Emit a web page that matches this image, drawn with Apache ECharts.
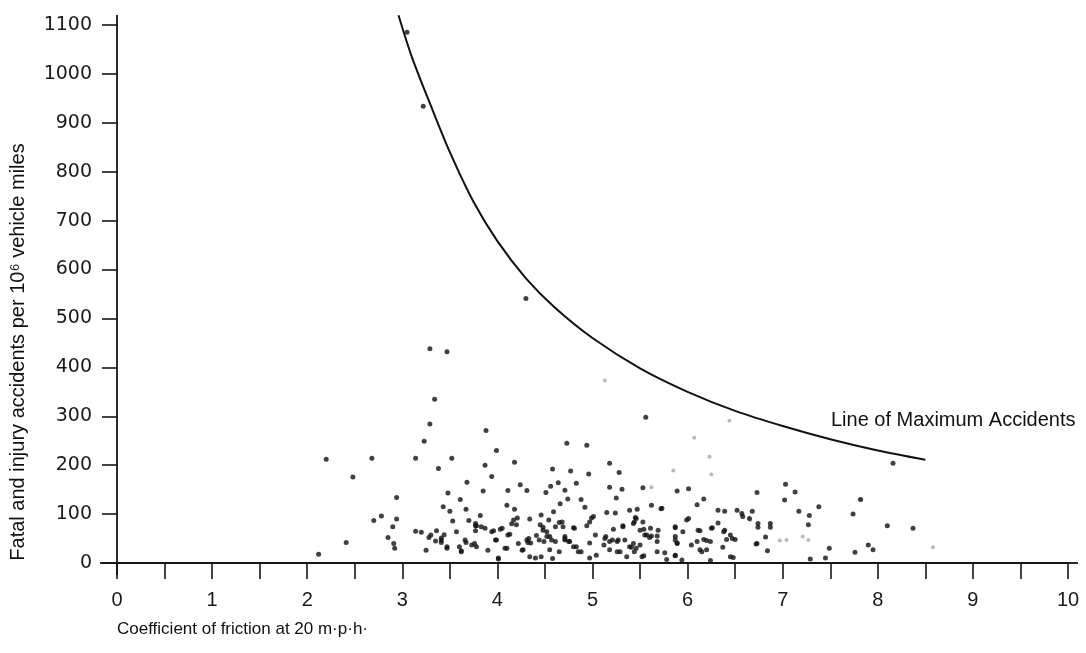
<!DOCTYPE html>
<html>
<head>
<meta charset="utf-8">
<script src="https://cdn.jsdelivr.net/npm/echarts@6/dist/echarts.min.js"></script>
<style>html,body{margin:0;padding:0;background:#fff;}#c{width:1086px;height:653px;}</style>
</head>
<body>
<div id="c"></div>
<script>
// ---- data ----
const xTickValues = [0,1,2,3,4,5,6,7,8,9,10];
const yTickValues = [0,100,200,300,400,500,600,700,800,900,1000,1100];

const curveX = [2.96, 3.1, 3.3, 3.5, 3.75, 4.0, 4.3, 4.6, 5.0, 5.5, 6.0, 6.5, 7.0, 7.5, 8.0, 8.5];
const curveY = [1120, 1035, 935, 840, 738, 658, 582, 523, 460, 398, 350, 311, 280, 253, 230, 211];

const pointsDark = [
  [3.05,1085],[3.22,934],[4.30,541],[3.29,438],[3.47,432],[3.34,335],[3.29,284],[3.23,249],[3.88,271],[4.73,245],[4.94,241],[3.99,230],[5.56,298],
  [2.20,212],[2.68,214],[3.14,214],[3.52,214],[3.38,193],[2.48,176],[3.68,165],[3.48,143],[3.61,130],[2.94,134],[3.43,115],[3.50,106],[3.67,110],[2.78,96],[2.70,87],[2.94,90],[3.53,86],[3.70,87],[3.77,76],[2.90,74],[3.14,65],[3.20,63],[3.36,66],[3.77,66],[2.85,52],[3.28,52],[3.41,51],[3.67,42],[2.91,40],[2.41,42],[2.92,30],[3.25,26],[3.41,42],[3.47,33],[3.62,23],[3.60,33],[3.73,37],[2.12,18],[3.30,57],[3.35,45],[3.44,58],
  [3.87,200],[4.18,206],[5.18,204],[4.58,192],[4.77,188],[4.96,182],[5.28,185],[3.94,177],[4.24,160],[4.56,157],[4.64,164],[4.83,163],[5.18,155],[5.31,151],[5.53,154],[3.85,147],[4.11,148],[4.31,148],[4.51,144],[4.71,149],[5.25,133],[4.88,130],[4.74,131],[4.10,118],[4.66,121],[5.62,118],[5.72,111],[5.47,110],[4.18,110],[4.92,114],[3.82,97],[4.46,98],[4.59,105],[5.15,103],[5.24,102],[5.01,95],[5.45,93],[4.17,88],[4.15,80],[4.21,92],[4.20,78],[4.34,90],[4.54,88],[4.65,83],[4.99,92],[4.94,76],[5.32,76],[5.43,81],[4.80,72],[4.48,73],[4.05,71],[3.87,71],[3.94,64],[3.78,76],[5.55,57],[5.62,55],[5.68,55],[4.11,57],[3.98,47],[4.33,50],[4.35,41],[4.52,54],[4.49,44],[4.57,47],[4.71,54],[4.76,44],[4.83,33],[4.88,23],[5.14,54],[5.21,47],[5.26,44],[5.12,37],[5.39,33],[5.44,23],[4.08,30],[3.78,33],[3.90,26],[4.26,26],[4.46,13],[4.65,23],[4.97,41],[5.26,23],[5.54,15],[5.68,23],[4.01,10],[4.34,13],[4.58,9],[5.54,69],
  [3.77,81],[3.83,74],[3.96,66],[4.03,69],[4.13,59],[3.99,47],[3.66,47],[3.57,64],[3.41,47],[3.76,40],[3.62,25],[3.47,30],[4.10,30],[4.01,8],[4.22,40],[4.31,47],[4.32,42],[4.27,27],[4.41,56],[4.44,47],[4.48,67],[4.52,64],[4.55,54],[4.61,74],[4.61,44],[4.55,27],[4.40,10],[4.71,47],[4.69,74],[4.45,78],
  [5.39,108],[5.46,91],[5.44,84],[4.97,84],[5.32,74],[5.53,84],[4.81,71],[5.61,71],[5.69,67],[5.22,69],[5.87,74],[5.50,67],[4.68,84],[4.71,50],[4.75,44],[4.80,33],[4.85,23],[5.03,57],[5.13,50],[5.18,44],[5.27,47],[5.34,47],[5.43,40],[5.46,30],[5.41,32],[5.57,57],[5.60,52],[5.50,37],[5.68,44],[5.87,47],[5.89,40],[5.18,27],[5.29,23],[5.52,13],[5.87,16],[5.04,16],[4.97,10],[5.36,13],
  [6.73,144],[5.89,147],[7.03,161],[7.13,145],[6.01,152],[6.17,131],[7.02,129],[6.10,119],[7.38,115],[5.73,112],[6.32,108],[6.39,106],[6.52,108],[6.57,101],[6.58,95],[6.68,106],[7.17,106],[7.28,97],[7.74,100],[6.01,91],[6.65,91],[6.74,81],[6.87,81],[6.87,73],[6.74,73],[7.27,78],[5.87,72],[6.11,67],[6.26,72],[6.38,64],[6.45,57],[6.50,48],[6.47,50],[5.87,54],[5.89,41],[6.10,44],[6.17,48],[6.24,44],[6.15,23],[6.04,37],[6.82,53],[6.84,25],[6.72,39],[7.49,30],[7.29,8],[7.45,10],[7.76,22],[5.76,21],[5.87,15],[6.45,13],[6.24,5],[5.78,7],[5.99,88],[6.32,82],[6.25,71],[6.13,66],[5.95,64],[6.39,67],[6.20,46],[6.41,48],[6.73,40],[6.13,27],[6.20,27],[6.37,32],[6.48,11],[5.94,6],
  [8.16,204],[7.82,130],[8.10,76],[8.37,71],[7.90,37],[7.95,27]
];

const pointsFaint = [
  [5.13,373],[6.44,291],[6.07,256],[6.23,217],[5.85,189],[6.25,181],[5.62,155],[7.81,130],[6.66,88],[6.97,46],[7.04,47],[7.21,54],[7.27,47],[8.58,32]
];

const curveLabel = 'Line of Maximum Accidents';
const xName = 'Coefficient of friction at 20 m·p·h·';
const yName = 'Fatal and injury accidents per 10⁶ vehicle miles';

// ---- chart ----
const curveData = curveX.map((x, i) => [x, curveY[i]]);
const chart = echarts.init(document.getElementById('c'), null, {renderer: 'canvas'});
const axisCol = '#151515';
const option = {
  backgroundColor: '#ffffff',
  animation: false,
  grid: {left: 117, right: 18, top: 25, bottom: 90, containLabel: false},
  xAxis: {
    type: 'value', min: 0, max: 10, interval: 0.5,
    axisLine: {show: true, onZero: false, lineStyle: {color: axisCol, width: 1.8}},
    axisTick: {show: true, inside: false, length: 16, lineStyle: {color: axisCol, width: 1.6}},
    splitLine: {show: false},
    axisLabel: {
      margin: 27, color: '#1a1a1a', fontSize: 20,
      fontFamily: '"Liberation Sans Narrow", "Liberation Sans", sans-serif',
      formatter: v => (xTickValues.indexOf(v) >= 0 ? String(v) : '')
    }
  },
  yAxis: {
    type: 'value', min: 0, max: 1100, interval: 100,
    axisLine: {show: true, onZero: false, lineStyle: {color: axisCol, width: 1.8}},
    axisTick: {show: true, inside: false, length: 15, lineStyle: {color: axisCol, width: 1.6}},
    splitLine: {show: false},
    axisLabel: {
      margin: 25, color: '#1a1a1a', fontSize: 19,
      fontFamily: '"DejaVu Sans", sans-serif',
      formatter: v => (yTickValues.indexOf(v) >= 0 ? String(v) : '')
    }
  },
  series: [
    {
      type: 'scatter', name: 'faint', data: pointsFaint, symbolSize: 4,
      itemStyle: {color: '#a8a8a8'}, z: 2
    },
    {
      type: 'scatter', name: 'accidents', data: pointsDark, symbolSize: 5,
      itemStyle: {color: '#111111'}, z: 3
    },
    {
      type: 'line', name: 'max', data: curveData, smooth: 0.3,
      showSymbol: false, clip: false,
      lineStyle: {color: '#111111', width: 2}, z: 4
    }
  ],
  graphic: [
    {
      type: 'text', left: 831, top: 410,
      style: {text: curveLabel, fill: '#111', font: '20px "Liberation Sans", sans-serif'}
    },
    {
      type: 'text', left: 117, top: 621,
      style: {text: xName, fill: '#111', font: '17px "Liberation Sans Narrow", "Liberation Sans", sans-serif'}
    },
    {
      type: 'text', x: 18, y: 352, rotation: Math.PI / 2,
      style: {text: yName, fill: '#111', font: '20px "Liberation Sans", sans-serif', align: 'center', verticalAlign: 'middle'}
    }
  ]
};
chart.setOption(option);

// small axis-line extensions past the origin, as in the printed figure
const pOrigin = chart.convertToPixel({gridIndex: 0}, [0, 0]);
const pTop = chart.convertToPixel({gridIndex: 0}, [0, 1100]);
const pRight = chart.convertToPixel({gridIndex: 0}, [10, 0]);
chart.setOption({
  graphic: option.graphic.concat([
    {type: 'line', shape: {x1: pOrigin[0] - 17, y1: pOrigin[1], x2: pOrigin[0], y2: pOrigin[1]}, style: {stroke: axisCol, lineWidth: 1.8}},
    {type: 'line', shape: {x1: pRight[0], y1: pOrigin[1], x2: pRight[0] + 10, y2: pOrigin[1]}, style: {stroke: axisCol, lineWidth: 1.8}},
    {type: 'line', shape: {x1: pOrigin[0], y1: pOrigin[1], x2: pOrigin[0], y2: pOrigin[1] + 12}, style: {stroke: axisCol, lineWidth: 1.8}},
    {type: 'line', shape: {x1: pTop[0], y1: pTop[1] - 10, x2: pTop[0], y2: pTop[1]}, style: {stroke: axisCol, lineWidth: 1.8}}
  ])
});
</script>
</body>
</html>
